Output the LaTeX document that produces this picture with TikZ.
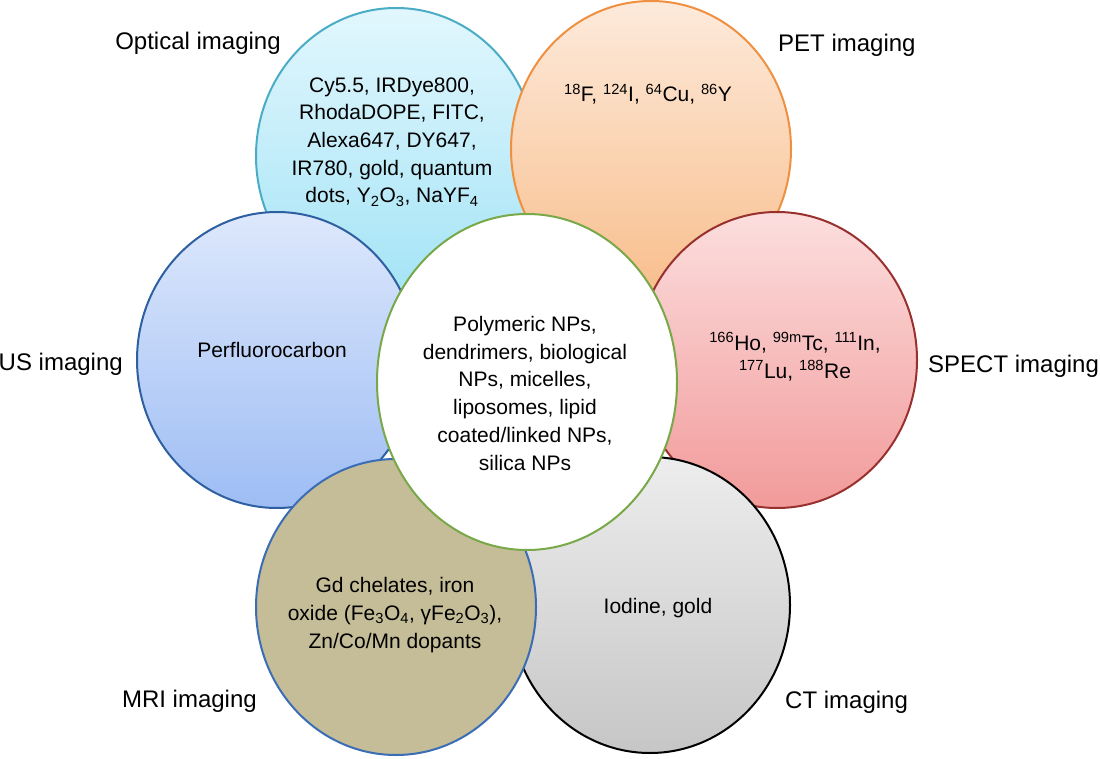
\documentclass[tikz,border=0pt]{standalone}
\usepackage{fontspec}
\setmainfont{Liberation Sans}
\usetikzlibrary{shapes.geometric}
\definecolor{cyanedge}{HTML}{4AACC5}
\definecolor{cyantop}{HTML}{E2F7FD}
\definecolor{cyanbot}{HTML}{A2E3F6}
\definecolor{orangeedge}{HTML}{EE9040}
\definecolor{orangetop}{HTML}{FDEADB}
\definecolor{orangebot}{HTML}{F8BE8C}
\definecolor{rededge}{HTML}{98302E}
\definecolor{redtop}{HTML}{FCDEDE}
\definecolor{redbot}{HTML}{F29A9A}
\definecolor{greytop}{HTML}{EDEDED}
\definecolor{greybot}{HTML}{C6C6C6}
\definecolor{blueedge}{HTML}{2E5FA0}
\definecolor{bluetop}{HTML}{DDE8FC}
\definecolor{bluebot}{HTML}{9EBDF4}
\definecolor{khaki}{HTML}{C4BD97}
\definecolor{khakiedge}{HTML}{3A6DB5}
\definecolor{greenedge}{HTML}{78A848}
\begin{document}
\begin{tikzpicture}[x=1pt,y=-1pt,
  petal/.style={ellipse, line width=2pt, minimum width=280pt, minimum height=296pt, inner sep=0pt},
  lab/.style={font=\fontsize{24}{28}\selectfont, anchor=base, inner sep=0pt},
  txt/.style={font=\fontsize{21}{27.7}\selectfont, align=center, anchor=base, inner sep=0pt}]
\useasboundingbox (0,0) rectangle (1100,759);
% petals
\node[petal, draw=cyanedge, top color=cyantop, bottom color=cyanbot] (opt) at (396,156) {};
\node[petal, draw=orangeedge, top color=orangetop, bottom color=orangebot] (pet) at (651,149) {};
\node[petal, draw=rededge, top color=redtop, bottom color=redbot] (spect) at (777,360) {};
\node[petal, draw=black, top color=greytop, bottom color=greybot] (ct) at (650,605) {};
\node[petal, draw=blueedge, top color=bluetop, bottom color=bluebot] (us) at (277,360) {};
\node[petal, draw=khakiedge, fill=khaki] (mri) at (396,607) {};
\node[ellipse, line width=2pt, draw=greenedge, fill=white, minimum width=300pt, minimum height=336pt, inner sep=0pt] (np) at (527,382) {};
% outer labels
\node[lab] (lopt) at (198,50) {Optical imaging};
\node[lab, anchor=base west] (lpet) at (778,52) {PET imaging};
\node[lab, anchor=base west] (lspect) at (928,372) {SPECT imaging};
\node[lab, anchor=base east] (lus) at (123,370) {US imaging};
\node[lab, anchor=base east] (lmri) at (257,707) {MRI imaging};
\node[lab, anchor=base west] (lct) at (785,708) {CT imaging};
% inner texts (base = baseline of last line)
\node[txt] (topt) at (392,203) {Cy5.5, IRDye800,\\RhodaDOPE, FITC,\\Alexa647, DY647,\\IR780, gold, quantum\\dots, Y\textsubscript{2}O\textsubscript{3}, NaYF\textsubscript{4}};
\node[txt] (tpet) at (648,102) {\textsuperscript{18}F, \textsuperscript{124}I, \textsuperscript{64}Cu, \textsuperscript{86}Y};
\node[txt] (tspect) at (795,378) {\textsuperscript{166}Ho, \textsuperscript{99m}Tc, \textsuperscript{111}In,\\\textsuperscript{177}Lu, \textsuperscript{188}Re};
\node[txt] (tus) at (272,357) {Perfluorocarbon};
\node[txt] (tmri) at (395,648) {Gd chelates, iron\\oxide (Fe\textsubscript{3}O\textsubscript{4}, γFe\textsubscript{2}O\textsubscript{3}),\\Zn/Co/Mn dopants};
\node[txt] (tct) at (658,613) {Iodine, gold};
\node[txt] (tnp) at (525,470) {Polymeric NPs,\\dendrimers, biological\\NPs, micelles,\\liposomes, lipid\\coated/linked NPs,\\silica NPs};
\end{tikzpicture}
\end{document}
